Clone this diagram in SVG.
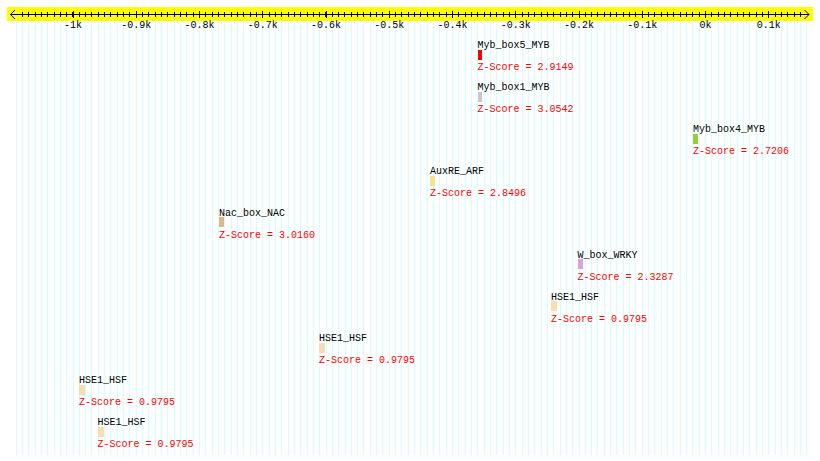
<svg xmlns="http://www.w3.org/2000/svg" width="820" height="461" viewBox="0 0 820 461">
<style>
text{font-family:"Liberation Mono","DejaVu Sans Mono",monospace;font-size:10px}
.lbl{fill:#000}
.z{fill:#ff0000}
.tk{fill:#000;text-anchor:middle}
.bar{shape-rendering:crispEdges}
</style>
<rect width="820" height="461" fill="#ffffff"/>
<g id="grid">
<line x1="15.6" y1="238" x2="808" y2="238" stroke="#d2ffff" stroke-width="434" stroke-dasharray="1 5.325" shape-rendering="crispEdges"/>
</g>
<g id="axis">
<rect x="7" y="7" width="806" height="14" fill="#ffff00"/>
<line x1="10.5" y1="14.5" x2="809" y2="14.5" stroke="#000" stroke-width="1"/>
<line x1="21.9" y1="14.5" x2="801" y2="14.5" stroke="#000" stroke-width="5" stroke-dasharray="1 5.325" shape-rendering="crispEdges"/>
<line x1="72.5" y1="14.5" x2="770" y2="14.5" stroke="#000" stroke-width="7" stroke-dasharray="1 62.25" shape-rendering="crispEdges"/>
<polyline points="15,10 10.5,14.5 15,19" fill="none" stroke="#000" stroke-width="1"/>
<polyline points="804.5,10 809,14.5 804.5,19" fill="none" stroke="#000" stroke-width="1"/>
<text class="tk" x="73" y="28">-1k</text>
<text class="tk" x="136.25" y="28">-0.9k</text>
<text class="tk" x="199.5" y="28">-0.8k</text>
<text class="tk" x="262.75" y="28">-0.7k</text>
<text class="tk" x="326" y="28">-0.6k</text>
<text class="tk" x="389.25" y="28">-0.5k</text>
<text class="tk" x="452.5" y="28">-0.4k</text>
<text class="tk" x="515.75" y="28">-0.3k</text>
<text class="tk" x="579" y="28">-0.2k</text>
<text class="tk" x="642.25" y="28">-0.1k</text>
<text class="tk" x="705.5" y="28">0k</text>
<text class="tk" x="768.75" y="28">0.1k</text>
</g>
<g id="myb_box5">
<text class="lbl" x="477.5" y="48">Myb_box5_MYB</text>
<rect class="bar" x="478" y="50" width="4" height="10" fill="#ff0000"/>
<text class="z" x="477.5" y="70">Z-Score = 2.9149</text>
</g>
<g id="myb_box1">
<text class="lbl" x="477.5" y="90">Myb_box1_MYB</text>
<rect class="bar" x="478" y="92" width="4" height="10" fill="#d8bfd8"/>
<text class="z" x="477.5" y="112">Z-Score = 3.0542</text>
</g>
<g id="myb_box4">
<text class="lbl" x="693" y="132">Myb_box4_MYB</text>
<rect class="bar" x="693" y="134" width="5" height="10" fill="#9acd32"/>
<text class="z" x="693" y="154">Z-Score = 2.7206</text>
</g>
<g id="auxre">
<text class="lbl" x="430" y="174">AuxRE_ARF</text>
<rect class="bar" x="430" y="176" width="5" height="10" fill="#f0e68c"/>
<text class="z" x="430" y="196">Z-Score = 2.8496</text>
</g>
<g id="nac_box">
<text class="lbl" x="219" y="215.5">Nac_box_NAC</text>
<rect class="bar" x="219" y="217" width="5" height="10" fill="#deb887"/>
<text class="z" x="219" y="237.5">Z-Score = 3.0160</text>
</g>
<g id="w_box">
<text class="lbl" x="577.5" y="257.5">W_box_WRKY</text>
<rect class="bar" x="578" y="259" width="5" height="10" fill="#dda0dd"/>
<text class="z" x="577.5" y="279.5">Z-Score = 2.3287</text>
</g>
<g id="hse1_a">
<text class="lbl" x="551" y="299.5">HSE1_HSF</text>
<rect class="bar" x="551" y="301" width="6" height="10" fill="#f5deb3"/>
<text class="z" x="551" y="321.5">Z-Score = 0.9795</text>
</g>
<g id="hse1_b">
<text class="lbl" x="319" y="341">HSE1_HSF</text>
<rect class="bar" x="319" y="343" width="6" height="10" fill="#f5deb3"/>
<text class="z" x="319" y="363">Z-Score = 0.9795</text>
</g>
<g id="hse1_c">
<text class="lbl" x="79" y="383">HSE1_HSF</text>
<rect class="bar" x="79" y="385" width="6" height="10" fill="#f5deb3"/>
<text class="z" x="79" y="405">Z-Score = 0.9795</text>
</g>
<g id="hse1_d">
<text class="lbl" x="97.5" y="425">HSE1_HSF</text>
<rect class="bar" x="98" y="427" width="6" height="10" fill="#f5deb3"/>
<text class="z" x="97.5" y="447">Z-Score = 0.9795</text>
</g>
</svg>
